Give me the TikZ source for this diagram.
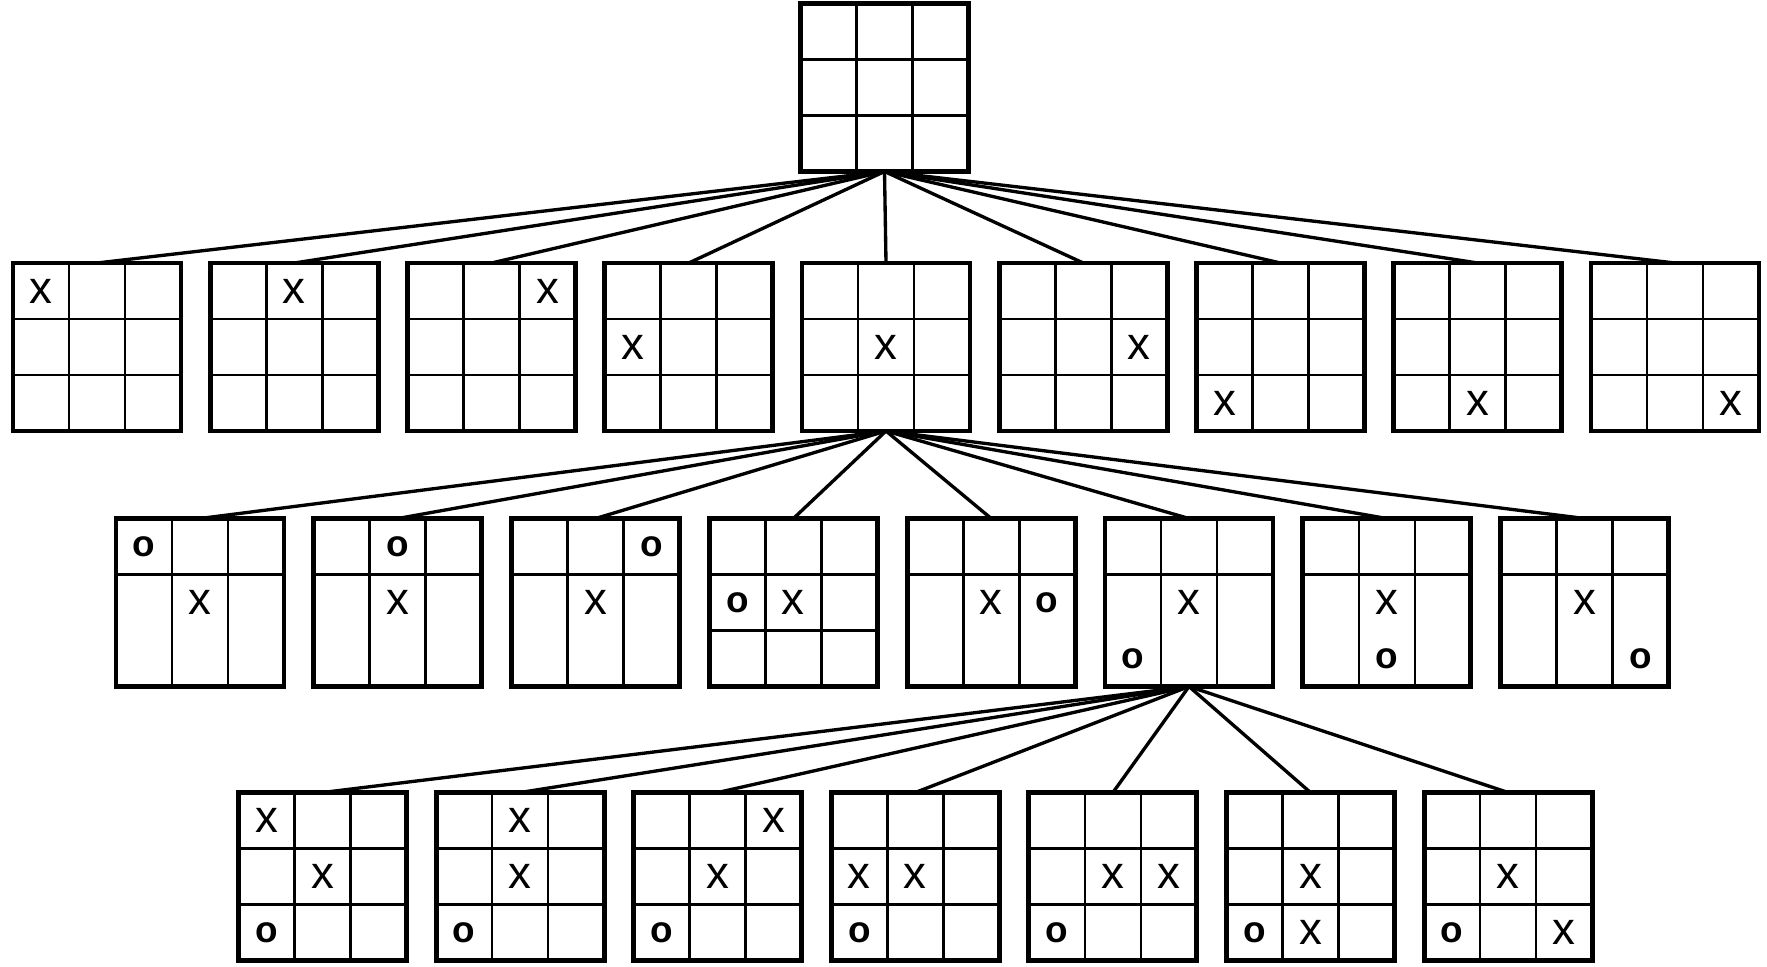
\documentclass[tikz,border=0pt]{standalone}
\usepackage{fontspec}
\setmainfont{Liberation Sans}
\usetikzlibrary{positioning}

\tikzset{
    tavola/.style={draw,line width=1.4pt,minimum size=1.68cm,inner sep=0pt,outer sep=0pt},
    linee/.style={line width=0.75pt},
    ramo/.style={line width=0.95pt},
    croce/.style={inner sep=0pt,font=\fontsize{13}{13}\selectfont},
    cerchio/.style={inner sep=0pt,font=\bfseries\fontsize{10.5}{10.5}\selectfont}
}
%griglia completa
\newcommand{\griglia}[1]{
    \draw[linee]([xshift=-0.28cm]#1.north)--([xshift=-0.28cm]#1.south)
        ([xshift=0.28cm]#1.north)--([xshift=0.28cm]#1.south)
        ([yshift=0.28cm]#1.west)--([yshift=0.28cm]#1.east)
        ([yshift=-0.28cm]#1.west)--([yshift=-0.28cm]#1.east);
}
%griglia senza seconda riga
\newcommand{\grigliamezza}[1]{
    \draw[linee]([xshift=-0.28cm]#1.north)--([xshift=-0.28cm]#1.south)
        ([xshift=0.28cm]#1.north)--([xshift=0.28cm]#1.south)
        ([yshift=0.28cm]#1.west)--([yshift=0.28cm]#1.east);
}
%segni nelle caselle (colonna, riga)
\newcommand{\croce}[3]{\node[croce](#1-#2#3) at ([xshift={(#2-2)*0.56cm},yshift={(2-#3)*0.56cm}]#1.center){x};}
\newcommand{\cerchio}[3]{\node[cerchio](#1-#2#3) at ([xshift={(#2-2)*0.56cm},yshift={(2-#3)*0.56cm}]#1.center){o};}

\begin{document}
\begin{tikzpicture}
    \useasboundingbox(0,0) rectangle (17.67,9.66);
    %radice
    \node[tavola](r) at (8.845,8.785){};
    \griglia{r}

    %primo livello
    \foreach \i/\c/\r in {1/1/1,2/2/1,3/3/1,4/1/2,5/2/2,6/3/2,7/1/3,8/2/3,9/3/3}{
        \node[tavola](a\i) at ({0.97+(\i-1)*1.9725},6.19){};
        \griglia{a\i}
        \croce{a\i}{\c}{\r}
        \draw[ramo](r.south)--(a\i.north);
    }

    %secondo livello
    \foreach \i/\c/\r in {1/1/1,2/2/1,3/3/1,4/1/2,5/3/2,6/1/3,7/2/3,8/3/3}{
        \node[tavola](b\i) at ({2.00+(\i-1)*1.978},3.635){};
        \ifnum\i=4 \griglia{b\i} \else \grigliamezza{b\i} \fi
        \croce{b\i}{2}{2}
        \cerchio{b\i}{\c}{\r}
        \draw[ramo](a5.south)--(b\i.north);
    }

    %terzo livello
    \foreach \i/\c/\r in {1/1/1,2/2/1,3/3/1,4/1/2,5/3/2,6/2/3,7/3/3}{
        \node[tavola](c\i) at ({3.225+(\i-1)*1.976},0.895){};
        \griglia{c\i}
        \croce{c\i}{2}{2}
        \croce{c\i}{\c}{\r}
        \cerchio{c\i}{1}{3}
        \draw[ramo](b6.south)--(c\i.north);
    }
\end{tikzpicture}
\end{document}
